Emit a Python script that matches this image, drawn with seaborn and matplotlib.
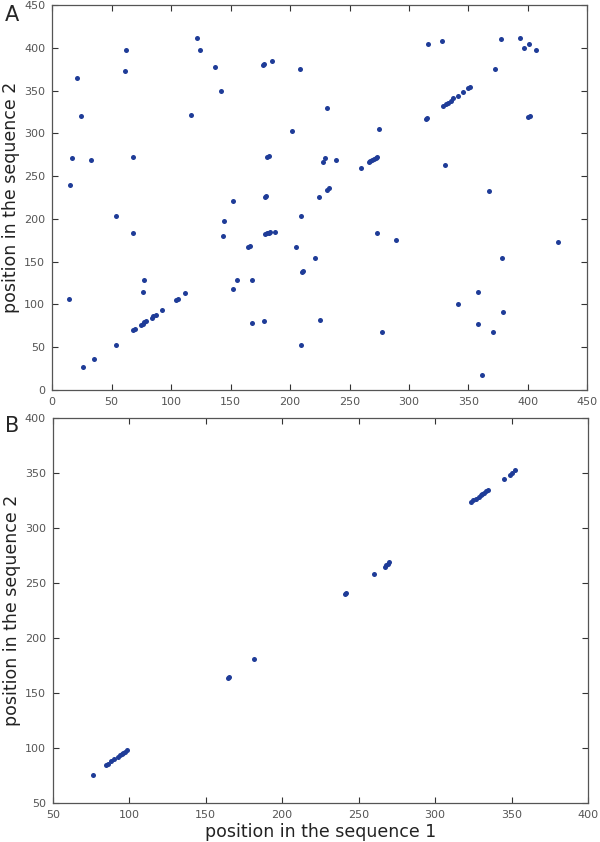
"""Dot plots of matching positions between two sequences (panels A and B)."""

import matplotlib
matplotlib.use("Agg")
import matplotlib.pyplot as plt
import pandas as pd
import seaborn as sns

# Panel A: all matches, as (position in seq 1, position in seq 2)
a_points = [
  (14, 106), (15, 240), (17, 271), (21, 365), (24, 320), (26, 27), (33, 269),
  (35, 36), (54, 52), (54, 203), (62, 398), (61, 373), (68, 272), (68, 183),
  (68, 70), (70, 71), (74.5, 76), (76, 77.5), (77.5, 79), (79, 80), (76, 115),
  (77, 128), (83.5, 84.5), (85, 86), (87, 87.5), (92, 93), (104, 105),
  (106, 106.5), (112, 113), (116.5, 321), (122, 412), (124, 398), (137, 378),
  (142, 350), (144, 180), (144.5, 197), (152, 118), (152, 221), (155, 129),
  (165, 167), (166, 168), (168, 78), (168, 128), (178, 81), (177, 380),
  (178.5, 381), (179, 226), (180, 227), (181, 272), (182, 273), (179, 182),
  (180.5, 183), (182, 184), (183, 185), (185, 385), (187, 185), (202, 303),
  (205, 167), (208, 375), (209, 203), (209, 52), (210, 138), (211, 139),
  (221, 154), (224, 225), (225, 82), (228, 267), (229, 271), (231, 330),
  (231, 234), (233, 236), (239, 269), (260, 259), (266, 266), (267.5, 267.5),
  (269, 269), (270.5, 270.5), (272, 271.5), (273.5, 272.5), (273, 183),
  (275, 305), (277, 68), (289, 175), (314, 317), (315.5, 318), (316, 404),
  (328, 408), (329, 332), (331, 334), (333, 336), (335, 338), (337, 341),
  (341, 344), (345, 348), (350, 353), (351.5, 354), (330, 263), (341, 100),
  (358, 115), (358, 77), (361, 17), (367, 233), (371, 68), (372, 375),
  (377, 410), (378, 154), (379, 91), (393, 411), (397, 400), (401, 404),
  (400, 319), (401.5, 320), (407, 397), (425, 173),
]

# Panel B: filtered diagonal matches
b_points = [
  (76, 76), (85, 85), (86, 86), (88, 88), (90, 90), (92.5, 92.5), (94, 94),
  (95, 95), (96, 96), (97, 97), (98.5, 98), (164.5, 164), (165.5, 165),
  (181.5, 181.5), (241, 240), (242, 241), (260, 258.5), (267, 265),
  (268, 266.5), (269, 268), (270, 269), (323.5, 324), (325, 325.5),
  (326.5, 327), (328.5, 329), (330, 330.5), (331, 331.5), (332, 332.5),
  (333.5, 334), (334.5, 335), (345, 345), (349, 349), (350, 350.5),
  (352.5, 353),
]

a_ticks = list(range(0, 451, 50))
b_ticks = list(range(50, 401, 50))

dot_color = "#1f3c98"
text_color = "#555555"

sns.set_style("ticks")
plt.rcParams["font.family"] = ["DejaVu Sans"]

fig = plt.figure(figsize=(6, 8.42), dpi=100)
ax_a = fig.add_axes([0.087, 0.537, 0.892, 0.457])
ax_b = fig.add_axes([0.088, 0.046, 0.892, 0.457])

df_a = pd.DataFrame(a_points, columns=["seq1", "seq2"])
df_b = pd.DataFrame(b_points, columns=["seq1", "seq2"])

sns.scatterplot(data=df_a, x="seq1", y="seq2", ax=ax_a, color=dot_color,
                s=13, linewidth=0)
sns.scatterplot(data=df_b, x="seq1", y="seq2", ax=ax_b, color=dot_color,
                s=13, linewidth=0)


def style_axis(ax, ticks):
  ax.set_xlim(ticks[0], ticks[-1])
  ax.set_ylim(ticks[0], ticks[-1])
  ax.set_xticks(ticks)
  ax.set_yticks(ticks)
  ax.tick_params(direction="in", length=4, width=0.8, colors="#333333",
                 labelcolor=text_color, labelsize=8, top=True, right=True,
                 pad=5)
  for spine in ax.spines.values():
    spine.set_visible(True)
    spine.set_color("#555555")
    spine.set_linewidth(0.9)
  ax.set_ylabel("position in the sequence 2", fontsize=12.5, color="#222222",
                labelpad=3)


style_axis(ax_a, a_ticks)
style_axis(ax_b, b_ticks)
ax_a.set_xlabel("")
ax_b.set_xlabel("position in the sequence 1", fontsize=12.5, color="#222222",
                labelpad=2)

fig.text(0.008, 0.982, "A", fontsize=15, va="center", ha="left")
fig.text(0.008, 0.494, "B", fontsize=15, va="center", ha="left")

fig.savefig("out.png", dpi=100)
plt.close(fig)
